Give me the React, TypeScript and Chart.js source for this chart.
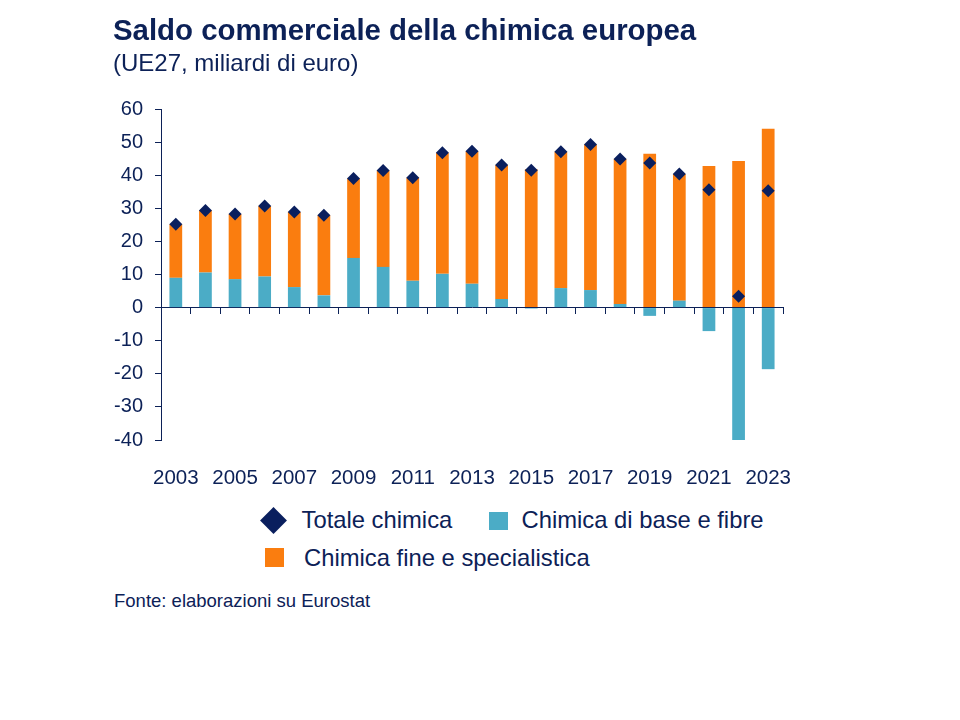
import React, { useEffect, useRef } from "react";
import { Chart, registerables } from "chart.js";

Chart.register(...registerables);

const years = [
  "2003", "2004", "2005", "2006", "2007", "2008", "2009", "2010", "2011", "2012", "2013",
  "2014", "2015", "2016", "2017", "2018", "2019", "2020", "2021", "2022", "2023",
];
const baseChem = [9.0, 10.6, 8.6, 9.4, 6.2, 3.7, 15.0, 12.3, 8.1, 10.2, 7.2, 2.6, -0.3, 5.9, 5.3, 1.1, -2.5, 2.1, -7.1, -40.1, -18.6];
const fineChem = [16.2, 18.8, 19.7, 21.3, 22.7, 24.2, 24.0, 29.1, 31.1, 36.6, 40.0, 40.5, 41.8, 41.2, 44.0, 43.8, 46.5, 38.3, 42.8, 44.3, 54.0];
const totalChem = [25.2, 29.3, 28.3, 30.7, 28.9, 27.9, 39.0, 41.4, 39.2, 46.8, 47.2, 43.1, 41.5, 47.1, 49.3, 44.9, 43.7, 40.4, 35.6, 3.4, 35.3];

const yMin = -40;
const yMax = 60;
const yStep = 10;

const NAVY = "#0C2157";
const DIAMOND = "#0A1F5E";
const BLUE = "#4BACC6";
const ORANGE = "#FA7D0F";
const FONT = "'Liberation Sans', Arial, Helvetica, sans-serif";

export default function App() {
  const canvasRef = useRef<HTMLCanvasElement | null>(null);

  useEffect(() => {
    if (!canvasRef.current) return;
    const chart = new Chart(canvasRef.current, {
      type: "bar",
      data: {
        labels: years,
        datasets: [
          {
            type: "line",
            label: "Totale chimica",
            data: totalChem,
            showLine: false,
            pointStyle: "rectRot",
            pointRadius: 6.5,
            pointBorderWidth: 0,
            backgroundColor: DIAMOND,
            borderColor: DIAMOND,
            xAxisID: "x",
            yAxisID: "y",
            order: 0,
          } as any,
          {
            label: "Chimica di base e fibre",
            data: baseChem,
            backgroundColor: BLUE,
            borderWidth: 0,
            stack: "s",
            barPercentage: 0.43,
            categoryPercentage: 1,
            xAxisID: "x",
            yAxisID: "y",
            order: 1,
          },
          {
            label: "Chimica fine e specialistica",
            data: fineChem,
            backgroundColor: ORANGE,
            borderWidth: 0,
            stack: "s",
            barPercentage: 0.43,
            categoryPercentage: 1,
            xAxisID: "x",
            yAxisID: "y",
            order: 1,
          },
        ],
      },
      options: {
        responsive: false,
        animation: false,
        devicePixelRatio: 1,
        layout: { padding: { top: 109, left: 0, right: 177, bottom: 0 } },
        plugins: {
          legend: { display: false },
          tooltip: { enabled: false },
          title: { display: false },
        },
        scales: {
          y: {
            type: "linear",
            position: "left",
            stacked: true,
            min: yMin,
            max: yMax,
            ticks: {
              stepSize: yStep,
              color: NAVY,
              font: { family: FONT, size: 20 },
              padding: 12,
            },
            grid: {
              drawOnChartArea: false,
              drawTicks: true,
              tickLength: 6,
              color: NAVY,
              lineWidth: 1,
            },
            border: { display: true, color: NAVY, width: 1 },
            afterFit: (scale: any) => {
              scale.width = 161;
            },
          },
          x: {
            type: "category",
            position: { y: 0 } as any,
            stacked: true,
            offset: true,
            ticks: { display: false },
            grid: {
              offset: true,
              drawOnChartArea: false,
              drawTicks: true,
              tickLength: 6,
              color: NAVY,
              lineWidth: 1,
            },
            border: { display: true, color: NAVY, width: 1 },
          },
          x2: {
            type: "category",
            position: "bottom",
            offset: true,
            grid: { display: false, drawTicks: false },
            border: { display: false },
            ticks: {
              autoSkip: false,
              maxRotation: 0,
              minRotation: 0,
              color: NAVY,
              font: { family: FONT, size: 20.5 },
              padding: 26,
              callback: (_v: any, i: number) => (i % 2 === 0 ? years[i] : ""),
            },
            afterFit: (scale: any) => {
              scale.height = 61;
            },
          },
        } as any,
      },
    });
    return () => chart.destroy();
  }, []);

  const textBase: React.CSSProperties = {
    position: "absolute",
    whiteSpace: "nowrap",
    lineHeight: 1,
    fontFamily: FONT,
    color: NAVY,
    margin: 0,
  };

  return (
    <div style={{ position: "absolute", left: 0, top: 0, width: 960, height: 720, background: "#ffffff", overflow: "hidden" }}>
      <canvas
        ref={canvasRef}
        width={960}
        height={501}
        style={{ position: "absolute", left: 0, top: 0, width: 960, height: 501 }}
      />
      <div style={{ ...textBase, left: 113, top: 14.5, fontSize: 29.4, fontWeight: 700 }}>
        Saldo commerciale della chimica europea
      </div>
      <div style={{ ...textBase, left: 113, top: 51.4, fontSize: 24 }}>
        (UE27, miliardi di euro)
      </div>

      {/* Legend */}
      <div
        style={{
          position: "absolute",
          left: 264,
          top: 510.5,
          width: 19,
          height: 19,
          background: DIAMOND,
          transform: "rotate(45deg)",
        }}
      />
      <div style={{ ...textBase, left: 301.5, top: 508.2, fontSize: 23.8 }}>Totale chimica</div>
      <div style={{ position: "absolute", left: 489, top: 511.5, width: 18.5, height: 18.5, background: BLUE }} />
      <div style={{ ...textBase, left: 521.5, top: 508.2, fontSize: 23.8 }}>Chimica di base e fibre</div>
      <div style={{ position: "absolute", left: 265, top: 548, width: 19, height: 19, background: ORANGE }} />
      <div style={{ ...textBase, left: 304, top: 545.7, fontSize: 23.8 }}>Chimica fine e specialistica</div>

      <div style={{ ...textBase, left: 114, top: 592, fontSize: 18.5 }}>Fonte: elaborazioni su Eurostat</div>
    </div>
  );
}
